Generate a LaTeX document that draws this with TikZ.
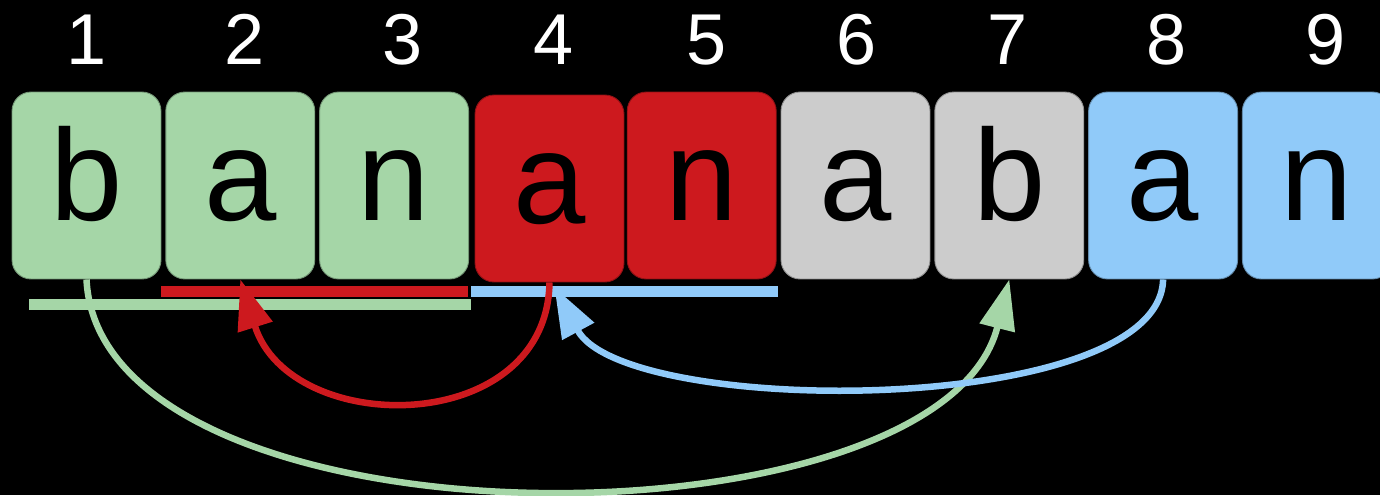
\documentclass[tikz,border=0pt]{standalone}
\usepackage{fontspec}
\setmainfont{Liberation Sans}
\usetikzlibrary{arrows.meta,calc}
\definecolor{LzGreen}{RGB}{165,214,167}
\definecolor{LzRed}{RGB}{205,25,30}
\definecolor{LzGray}{RGB}{204,204,204}
\definecolor{LzBlue}{RGB}{144,202,249}
\tikzset{
  lz/cell/.style={
    draw=#1!70!black,
    line width=0.5pt,
    fill=#1,
    rounded corners=0.38cm,
    minimum width=2.98cm,
    minimum height=3.74cm,
    inner sep=0pt,
    text height=2.56cm,
    text depth=1.18cm,
    text=black,
    font=\fontsize{74}{74}\selectfont
  },
  lz/index/.style={anchor=base, text=white, font=\fontsize{41}{41}\selectfont},
  lz/span/.style={draw=#1, line width=0.22cm},
  lz/jump/.style={draw=#1, line width=0.13cm, -{Triangle[length=1cm,width=0.7cm]}}
}

\begin{document}
\begin{tikzpicture}[x=0.02cm,y=-0.02cm]
  \clip (0,0) rectangle (1380,495);
  \fill[black] (0,0) rectangle (1380,495);

  % positions
  \node[lz/index] (i1) at (87,64) {1};
  \node[lz/index] (i2) at (245,64) {2};
  \node[lz/index] (i3) at (403,64) {3};
  \node[lz/index] (i4) at (554,64) {4};
  \node[lz/index] (i5) at (707,64) {5};
  \node[lz/index] (i6) at (857,64) {6};
  \node[lz/index] (i7) at (1008,64) {7};
  \node[lz/index] (i8) at (1167,64) {8};
  \node[lz/index] (i9) at (1326,64) {9};

  % the string
  \node[lz/cell=LzGreen] (c1) at (86.5,185.5) {b};
  \node[lz/cell=LzGreen] (c2) at (240.3,185.5) {a};
  \node[lz/cell=LzGreen] (c3) at (394.1,185.5) {n};
  \node[lz/cell=LzRed]   (c4) at (549.5,188.5) {a};
  \node[lz/cell=LzRed]   (c5) at (701.7,185.5) {n};
  \node[lz/cell=LzGray]  (c6) at (855.5,185.5) {a};
  \node[lz/cell=LzGray]  (c7) at (1009.3,185.5) {b};
  \node[lz/cell=LzBlue]  (c8) at (1163.1,185.5) {a};
  \node[lz/cell=LzBlue]  (c9) at (1316.9,185.5) {n};

  % copied ranges
  \draw[lz/span=LzRed] (161,291.5) -- (468,291.5);
  \draw[lz/span=LzGreen] (29,304.5) -- (471,304.5);
  \draw[lz/span=LzBlue] (471,291.5) -- (778,291.5);

  % back references
  \draw[lz/jump=LzGreen] (c1.south) .. controls (100,556) and (940,556) .. (c7.south);
  \draw[lz/jump=LzRed] (c4.south) .. controls (547,438) and (290,438) .. (c2.south);
  \draw[lz/jump=LzBlue] (c8.south) .. controls (1160,418) and (625,418) .. ($(c4.south)+(5,5)$);
\end{tikzpicture}
\end{document}
